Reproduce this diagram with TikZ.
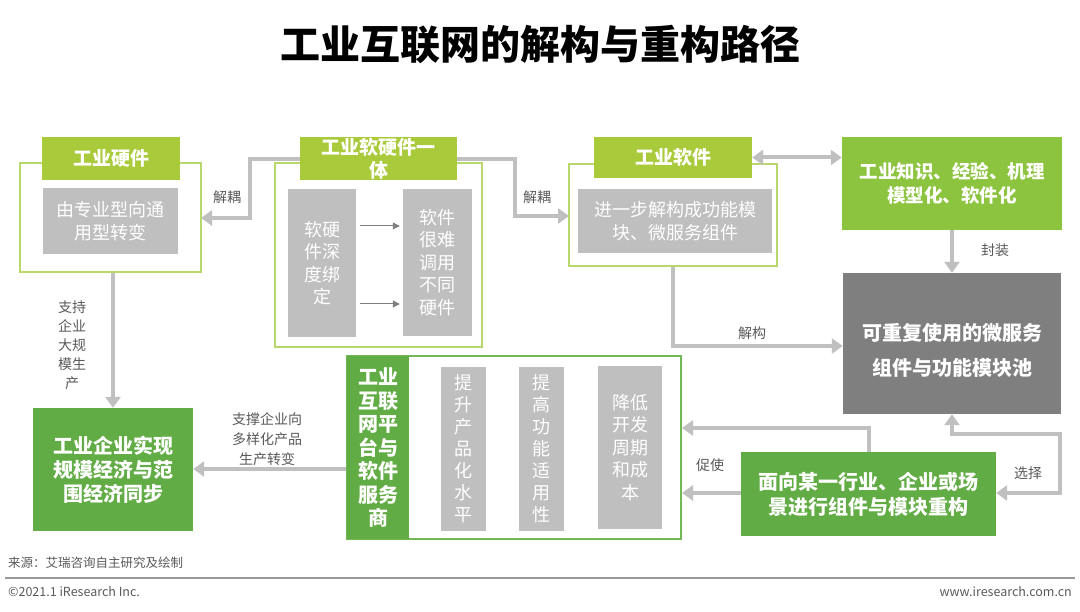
\documentclass[tikz,border=0pt]{standalone}
\usepackage{fontspec}
\setmainfont{Noto Sans CJK SC}
\usetikzlibrary{arrows.meta}

\definecolor{verdelima}{HTML}{A9CB3B}
\definecolor{verdeborde}{HTML}{B8D86E}
\definecolor{verdemedio}{HTML}{8CC43F}
\definecolor{verdeoscuro}{HTML}{62AC45}
\definecolor{verdeplat}{HTML}{74B854}
\definecolor{grisclaro}{HTML}{BFBFBF}
\definecolor{grisflecha}{HTML}{C0C0C0}
\definecolor{grisoscuro}{HTML}{7F7F7F}
\definecolor{textogris}{HTML}{595959}

\newcommand{\tam}[2]{\fontsize{#1}{#2}\selectfont}

\tikzset{
    marco/.style={draw=verdeborde, line width=2pt, inner sep=0pt},
    cabecera/.style={fill=verdelima, text=white, align=center, font=\bfseries\tam{19}{23}},
    cajagris/.style={fill=grisclaro, text=white, align=center, inner sep=0pt, font=\tam{18}{22.5}},
    cajaverde/.style={fill=verdeoscuro, text=white, align=center, inner sep=0pt, font=\bfseries\tam{20}{24}},
    flecha/.style={draw=grisflecha, line width=4pt, -{Triangle[length=11pt,width=15pt]}},
    doble/.style={draw=grisflecha, line width=4pt, {Triangle[length=11pt,width=15pt]}-{Triangle[length=11pt,width=15pt]}},
    fina/.style={draw=grisoscuro, line width=1pt, -{Triangle[length=7pt,width=7pt]}},
    etiqueta/.style={text=textogris, align=center, inner sep=0pt, font=\tam{14}{19.5}}
}

\begin{document}
\begin{tikzpicture}[x=1pt, y=-1pt]
                        \useasboundingbox (0,0) rectangle (1080,612);

                        % Titulo
                        \node[font=\bfseries\tam{40}{44}] (titulo) at (540,45) {工业互联网的解构与重构路径};

                        % Flechas de fondo (van detras de las cabeceras)
                        \draw[flecha] (378,159) -| (250,218) -- (201,218);
                        \draw[flecha] (378,159) -| (515,216) -- (569,216);

                        % Bloque: hardware
                        \node[marco, minimum width=181, minimum height=109] (hwmarco) at (110.5,217.5) {};
                        \node[cabecera, minimum width=138, minimum height=43] (hwcab) at (111,158.5) {工业硬件};
                        \node[cajagris, minimum width=135, minimum height=66] (hwgris) at (110.5,221) {由专业型向通\\用型转变};

                        % Bloque: software y hardware integrados
                        \node[marco, minimum width=207, minimum height=184] (shmarco) at (378.5,255) {};
                        \node[cabecera, minimum width=157, minimum height=43, inner sep=0pt] (shcab) at (378.5,158.5) {工业软硬件一\\体};
                        \node[cajagris, minimum width=68, minimum height=148] (shizq) at (322,263) {软硬\\件深\\度绑\\定};
                        \node[cajagris, minimum width=69, minimum height=147] (shder) at (437.5,262.5) {软件\\很难\\调用\\不同\\硬件};
                        \draw[fina, shorten <=4pt, shorten >=3pt] (shizq.east |- 0,226) -- (shder.west |- 0,226);
                        \draw[fina, shorten <=4pt, shorten >=3pt] (shizq.east |- 0,304) -- (shder.west |- 0,304);

                        % Bloque: software
                        \node[marco, minimum width=208, minimum height=102] (swmarco) at (673,215) {};
                        \node[cabecera, minimum width=158, minimum height=41] (swcab) at (673,157.5) {工业软件};
                        \node[cajagris, minimum width=194, minimum height=64] (swgris) at (675,221) {进一步解构成功能模\\块、微服务组件};

                        % Conocimiento y pool de componentes
                        \node[fill=verdemedio, text=white, align=center, inner sep=0pt, font=\bfseries\tam{18.5}{24},
                              minimum width=220, minimum height=93] (conoc) at (952,183.5) {工业知识、经验、机理\\模型化、软件化};
                        \node[fill=grisoscuro, minimum width=218, minimum height=141] (pool) at (952,343.5) {};
                        \node[text=white, align=center, inner sep=0pt, font=\bfseries\tam{20}{35}] (pooltxt) at (952,350.5) {可重复使用的微服务\\组件与功能模块池};

                        % Plataforma
                        \node[draw=verdeplat, line width=2pt, minimum width=334, minimum height=183] (plat) at (514,447.5) {};
                        \node[cajaverde, minimum width=62, minimum height=183, font=\bfseries\tam{20}{23.5}] (platcab) at (378,447.5) {工业\\互联\\网平\\台与\\软件\\服务\\商};
                        \node[cajagris, minimum width=45, minimum height=164, font=\tam{18}{22}] (col1) at (463.5,449) {提\\升\\产\\品\\化\\水\\平};
                        \node[cajagris, minimum width=45, minimum height=164, font=\tam{18}{22}] (col2) at (541.5,449) {提\\高\\功\\能\\适\\用\\性};
                        \node[cajagris, minimum width=64, minimum height=163] (col3) at (630,447.5) {降低\\开发\\周期\\和成\\本};

                        % Cajas verdes inferiores
                        \node[cajaverde, minimum width=160, minimum height=123] (escala) at (113,469.5) {工业企业实现\\规模经济与范\\围经济同步};
                        \node[cajaverde, minimum width=255, minimum height=84, font=\bfseries\tam{20}{25}] (recon) at (868.5,494) {面向某一行业、企业或场\\景进行组件与模块重构};

                        % Conexiones
                        \draw[doble] (swcab.east) -- (conoc.west |- swcab.east);
                        \draw[flecha] (conoc.south) -- (pool.north);
                        \draw[flecha] (swmarco.south) |- (pool.west |- 0,346);
                        \draw[flecha] (hwmarco.south -| escala.north) -- (escala.north);
                        \draw[flecha] (plat.west |- 0,469) -- (escala.east |- 0,469);
                        \draw[flecha] (recon.north) |- (plat.east |- 0,428);
                        \draw[flecha] (recon.west |- 0,493) -- (plat.east |- 0,493);
                        \draw[doble] (recon.east |- 0,493) -| (1060,434) -| (pool.south);

                        % Etiquetas
                        \node[etiqueta] (jieou1) at (227,197) {解耦};
                        \node[etiqueta] (jieou2) at (537,197) {解耦};
                        \node[etiqueta] (fengzhuang) at (995,250) {封装};
                        \node[etiqueta] (jiegou) at (752,333) {解构};
                        \node[etiqueta, font=\tam{14}{19}] (zhichi) at (72,345) {支持\\企业\\大规\\模生\\产};
                        \node[etiqueta, font=\tam{14}{20}] (zhicheng) at (267,439) {支撑企业向\\多样化产品\\生产转变};
                        \node[etiqueta] (cushi) at (710,465) {促使};
                        \node[etiqueta] (xuanze) at (1028,473) {选择};

                        % Pie
                        \node[etiqueta, anchor=west, font=\tam{12.5}{15}] (fuente) at (8,563) {来源：艾瑞咨询自主研究及绘制};
                        \coordinate (pieizq) at (5,578);
                        \coordinate (pieder) at (1075,578);
                        \draw[draw=grisoscuro!80, line width=1.5pt] (pieizq) -- (pieder);
                        \node[etiqueta, anchor=west, font=\tam{12.5}{15}] (copy) at (8,592) {©2021.1 iResearch Inc.};
                        \node[etiqueta, anchor=east, font=\tam{12.5}{15}] (web) at (1072,592) {www.iresearch.com.cn};
                    \end{tikzpicture}
\end{document}
